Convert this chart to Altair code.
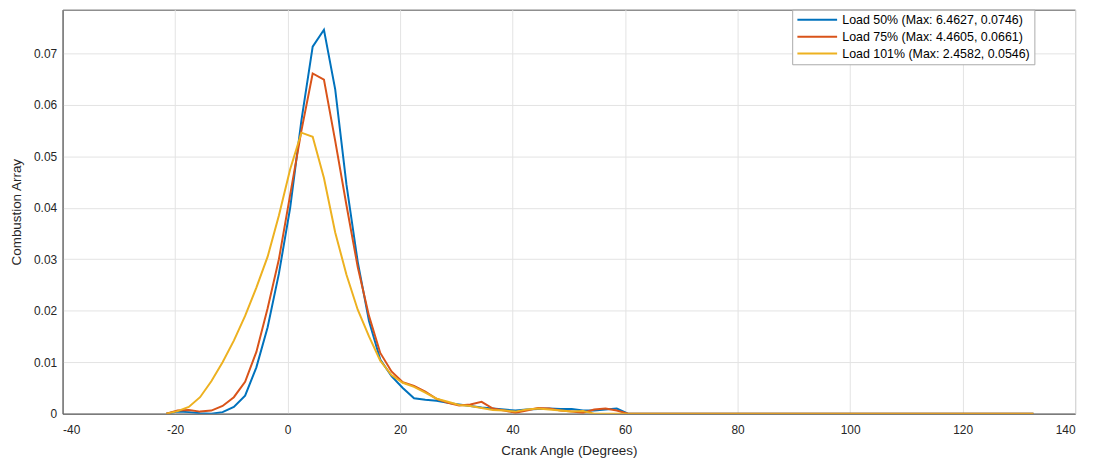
import altair as alt
import pandas as pd

angles = [-21.568, -19.566, -17.564, -15.562, -13.559, -11.557, -9.555, -7.553,
          -5.551, -3.548, -1.546, 0.456, 2.458, 4.460, 6.463, 8.465, 10.467,
          12.469, 14.471, 16.474, 18.476, 20.478, 22.480, 24.482, 26.485, 28.487,
          30.489, 32.491, 34.493, 36.496, 38.498, 40.500, 42.502, 44.504, 46.507,
          48.509, 50.511, 52.513, 54.515, 56.518, 58.520, 60.522, 132.601]

load50 = [0.0, 0.0004, 0.0003, 0.0001, 0.0, 0.0003, 0.0013, 0.0035, 0.0090,
          0.0168, 0.0272, 0.0400, 0.0570, 0.0713, 0.0746, 0.0630, 0.0445,
          0.0295, 0.0180, 0.0105, 0.0073, 0.0050, 0.0030, 0.0027, 0.0025,
          0.0021, 0.0018, 0.0015, 0.0012, 0.0010, 0.0008, 0.0006, 0.0008,
          0.0009, 0.0010, 0.0009, 0.0009, 0.0006, 0.0006, 0.0008, 0.0010,
          0.0, 0.0]

load75 = [0.0, 0.0006, 0.0007, 0.0004, 0.0006, 0.0015, 0.0032, 0.0062, 0.0120,
          0.0205, 0.0300, 0.0425, 0.0550, 0.0661, 0.0649, 0.0530, 0.0405,
          0.0285, 0.0190, 0.0118, 0.0082, 0.0061, 0.0054, 0.0043, 0.0029,
          0.0021, 0.0016, 0.0018, 0.0023, 0.0010, 0.0006, 0.0002, 0.0006,
          0.0011, 0.0010, 0.0006, 0.0004, 0.0002, 0.0008, 0.0010, 0.0006,
          0.0, 0.0]

load101 = [0.0, 0.0005, 0.0013, 0.0032, 0.0063, 0.0100, 0.0142, 0.0190, 0.0245,
           0.0305, 0.0385, 0.0475, 0.0546, 0.0538, 0.0458, 0.0352, 0.0270,
           0.0202, 0.0150, 0.0103, 0.0075, 0.0060, 0.0052, 0.0041, 0.0029,
           0.0023, 0.0017, 0.0015, 0.0011, 0.0007, 0.0006, 0.0004, 0.0008,
           0.0010, 0.0008, 0.0006, 0.0004, 0.0005, 0.0, 0.0, 0.0,
           0.0, 0.0]

series_names = ["Load 50% (Max: 6.4627, 0.0746)",
                "Load 75% (Max: 4.4605, 0.0661)",
                "Load 101% (Max: 2.4582, 0.0546)"]
series_colors = ["#0072BD", "#D95319", "#EDB120"]

rows = []
for name, vals in zip(series_names, [load50, load75, load101]):
    for a, v in zip(angles, vals):
        rows.append({"angle": a, "value": v, "series": name})
df = pd.DataFrame(rows)

FONT = "Liberation Sans"

chart = alt.Chart(df).mark_line(strokeWidth=2, clip=True).encode(
    x=alt.X("angle:Q",
            scale=alt.Scale(domain=[-40, 140], nice=False, zero=False),
            axis=alt.Axis(title="Crank Angle (Degrees)", values=list(range(-40, 141, 20)),
                          labelExpr="datum.value + ''", ticks=False,
                          labelPadding=11, titlePadding=8)),
    y=alt.Y("value:Q",
            scale=alt.Scale(domain=[0, 0.0785], nice=False),
            axis=alt.Axis(title="Combustion Array",
                          values=[0, 0.01, 0.02, 0.03, 0.04, 0.05, 0.06, 0.07],
                          format=".2~f", ticks=False, labelPadding=6, titlePadding=10)),
    color=alt.Color("series:N",
                    scale=alt.Scale(domain=series_names, range=series_colors),
                    sort=series_names,
                    legend=alt.Legend(title=None, orient="none", legendX=735, legendY=0,
                                      symbolType="M-4,0H4", symbolSize=100,
                                      symbolOffset=15,
                                      symbolStrokeWidth=2, labelFontSize=12.5,
                                      labelFont=FONT, labelColor="#000000",
                                      labelLimit=400,
                                      fillColor="#ffffff", strokeColor="#aaaaaa",
                                      padding=4, rowPadding=4, labelOffset=19)),
    order=alt.Order("series:N"),
).properties(
    width=1020,
    height=407,
    autosize=alt.AutoSizeParams(type="none"),
    padding={"left": 55, "top": 0, "right": 12, "bottom": 45},
).configure_view(
    stroke="#555555", strokeWidth=1
).configure_axis(
    labelFont=FONT, titleFont=FONT, labelFontSize=12, titleFontSize=13.5,
    labelColor="#262626", titleColor="#262626", titleFontWeight="normal",
    domainColor="#555555", gridColor="#e3e3e3", gridWidth=1
)

chart.save("out.html", embed_options={"renderer": "svg", "actions": False})
